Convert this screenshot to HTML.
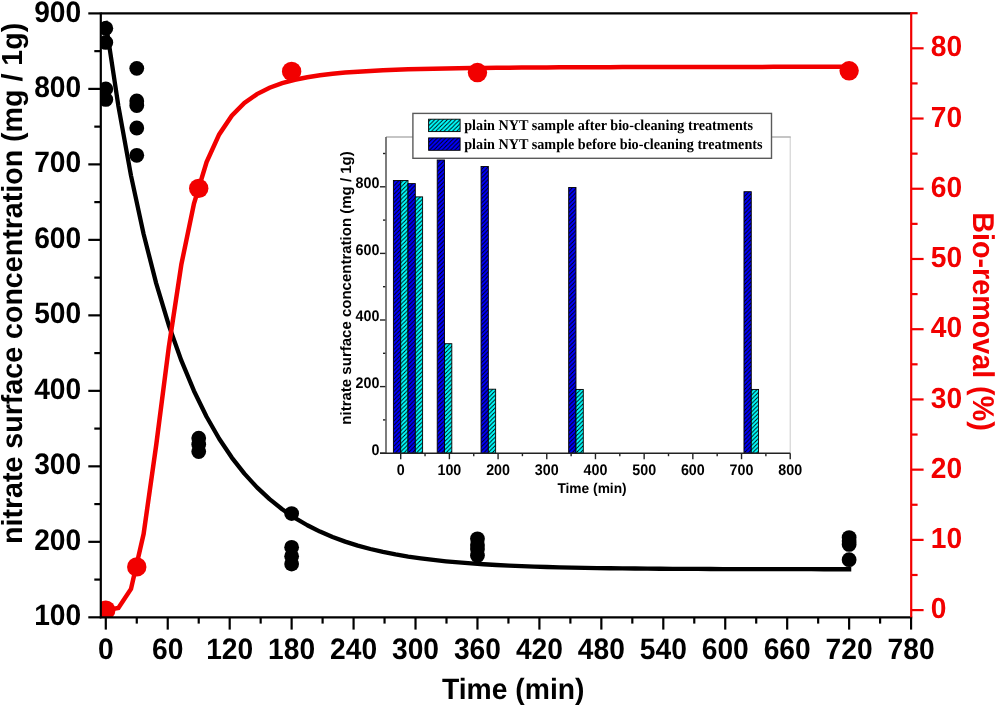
<!DOCTYPE html>
<html><head><meta charset="utf-8"><style>
html,body{margin:0;padding:0;background:#fff;}
svg{display:block;will-change:transform;}
.k{stroke:#000;stroke-width:2.2;}
.r{stroke:#f20000;stroke-width:2.2;}
.g{stroke:#a8a8a8;stroke-width:1.3;fill:none;}
.ik{stroke:#222;stroke-width:1.4;}
.iax{stroke:#666;stroke-width:1.7;}
.bar{stroke:#000;stroke-width:0.9;}
text{font-family:"Liberation Sans",sans-serif;font-weight:bold;text-rendering:geometricPrecision;}
.lab{font-size:28.2px;}
.ilab{font-size:14.3px;}
.ititle{font-size:15px;}
.ititle2{font-size:13.75px;}
.leg{font-family:"Liberation Serif",serif;font-size:14.2px;}
</style></head><body>
<svg width="995" height="705" viewBox="0 0 995 705">
<defs>
<pattern id="hb" patternUnits="userSpaceOnUse" width="4.2" height="4.2"><rect width="4.2" height="4.2" fill="#00f"/><path d="M-1,1 l2,-2 M0,4.2 l4.2,-4.2 M3.2,5.2 l2,-2" stroke="#000" stroke-width="0.9"/></pattern>
<pattern id="hc" patternUnits="userSpaceOnUse" width="4.2" height="4.2"><rect width="4.2" height="4.2" fill="#0ff"/><path d="M-1,1 l2,-2 M0,4.2 l4.2,-4.2 M3.2,5.2 l2,-2" stroke="#000" stroke-width="0.9"/></pattern>
<clipPath id="pa"><rect x="100.8" y="13.4" width="810.4000000000001" height="603.9"/></clipPath>
</defs>
<g clip-path="url(#pa)">
<polyline points="105.80,22.95 118.40,106.11 131.00,175.61 143.60,234.03 156.20,283.37 168.79,325.18 181.39,360.70 193.99,390.95 206.59,416.74 219.19,438.75 231.79,457.56 244.39,473.64 256.99,487.40 269.58,499.17 282.18,509.24 294.78,517.87 307.38,525.25 319.98,531.57 332.58,536.99 345.18,541.63 357.78,545.60 370.37,549.00 382.97,551.91 395.57,554.41 408.17,556.54 420.77,558.38 433.37,559.94 445.97,561.29 458.57,562.44 471.16,563.42 483.76,564.27 496.36,564.99 508.96,565.61 521.56,566.14 534.16,566.59 546.76,566.98 559.36,567.32 571.95,567.60 584.55,567.85 597.15,568.06 609.75,568.24 622.35,568.39 634.95,568.52 647.55,568.63 660.15,568.73 672.75,568.81 685.34,568.88 697.94,568.94 710.54,569.00 723.14,569.04 735.74,569.08 748.34,569.11 760.94,569.14 773.54,569.16 786.13,569.18 798.73,569.20 811.33,569.22 823.93,569.23 836.53,569.24 849.13,569.25" fill="none" stroke="#000" stroke-width="4.3" stroke-linejoin="round" stroke-linecap="square"/><polyline points="105.80,610.10 118.40,608.06 131.00,588.94 143.60,534.08 156.20,445.10 168.79,347.23 181.39,264.25 193.99,203.59 206.59,162.14 219.19,134.38 231.79,115.71 244.39,102.96 256.99,94.07 269.58,87.76 282.18,83.17 294.78,79.78 307.38,77.23 319.98,75.29 332.58,73.78 345.18,72.59 357.78,71.65 370.37,70.89 382.97,70.27 395.57,69.77 408.17,69.35 420.77,69.01 433.37,68.71 445.97,68.47 458.57,68.26 471.16,68.08 483.76,67.93 496.36,67.80 508.96,67.68 521.56,67.58 534.16,67.50 546.76,67.42 559.36,67.35 571.95,67.29 584.55,67.24 597.15,67.19 609.75,67.15 622.35,67.11 634.95,67.08 647.55,67.05 660.15,67.02 672.75,67.00 685.34,66.97 697.94,66.95 710.54,66.93 723.14,66.92 735.74,66.90 748.34,66.89 760.94,66.88 773.54,66.86 786.13,66.85 798.73,66.84 811.33,66.83 823.93,66.82 836.53,66.82 849.13,66.81" fill="none" stroke="#f20000" stroke-width="4.5" stroke-linejoin="miter" stroke-linecap="square"/>
<g fill="#000"><circle cx="105.80" cy="28.35" r="7.4"/><circle cx="105.80" cy="42.46" r="7.4"/><circle cx="105.80" cy="88.89" r="7.4"/><circle cx="105.80" cy="99.46" r="7.4"/><circle cx="136.77" cy="68.36" r="7.4"/><circle cx="136.77" cy="100.97" r="7.4"/><circle cx="136.77" cy="105.50" r="7.4"/><circle cx="136.77" cy="127.99" r="7.4"/><circle cx="136.77" cy="155.32" r="7.4"/><circle cx="198.72" cy="438.11" r="7.4"/><circle cx="198.72" cy="444.45" r="7.4"/><circle cx="198.72" cy="451.62" r="7.4"/><circle cx="291.63" cy="513.60" r="7.4"/><circle cx="291.63" cy="547.34" r="7.4"/><circle cx="291.63" cy="556.32" r="7.4"/><circle cx="291.63" cy="564.10" r="7.4"/><circle cx="477.46" cy="538.81" r="7.4"/><circle cx="477.46" cy="545.00" r="7.4"/><circle cx="477.46" cy="549.00" r="7.4"/><circle cx="477.46" cy="555.57" r="7.4"/><circle cx="849.13" cy="537.60" r="7.4"/><circle cx="849.13" cy="541.08" r="7.4"/><circle cx="849.13" cy="544.40" r="7.4"/><circle cx="849.13" cy="559.72" r="7.4"/></g>
<g fill="#f20000"><circle cx="105.80" cy="610.10" r="9.7"/><circle cx="136.77" cy="566.91" r="9.7"/><circle cx="198.72" cy="188.40" r="9.7"/><circle cx="291.63" cy="71.47" r="9.7"/><circle cx="477.46" cy="72.53" r="9.7"/><circle cx="849.13" cy="70.77" r="9.7"/></g>
</g>
<rect x="393.40" y="180.47" width="7.3" height="272.73" fill="url(#hb)" class="bar"/><rect x="400.70" y="180.47" width="7.3" height="272.73" fill="url(#hc)" class="bar"/><rect x="408.01" y="183.60" width="7.3" height="269.60" fill="url(#hb)" class="bar"/><rect x="415.31" y="196.89" width="7.3" height="256.31" fill="url(#hc)" class="bar"/><rect x="437.22" y="159.99" width="7.3" height="293.21" fill="url(#hb)" class="bar"/><rect x="444.52" y="343.71" width="7.3" height="109.49" fill="url(#hc)" class="bar"/><rect x="481.04" y="166.49" width="7.3" height="286.71" fill="url(#hb)" class="bar"/><rect x="488.34" y="389.20" width="7.3" height="64.00" fill="url(#hc)" class="bar"/><rect x="568.68" y="187.50" width="7.3" height="265.70" fill="url(#hb)" class="bar"/><rect x="575.98" y="389.43" width="7.3" height="63.77" fill="url(#hc)" class="bar"/><rect x="743.97" y="191.70" width="7.3" height="261.50" fill="url(#hb)" class="bar"/><rect x="751.27" y="389.43" width="7.3" height="63.77" fill="url(#hc)" class="bar"/><line x1="790.22" y1="137.00" x2="790.22" y2="453.20" stroke="#d0d0d0" stroke-width="1.1"/><line x1="386.00" y1="137.00" x2="790.72" y2="137.00" stroke="#b2b2b2" stroke-width="1.5"/><line x1="380.00" y1="453.20" x2="386.00" y2="453.20" class="ik"/><text transform="translate(379.40,454.50) scale(1,1.075)" text-anchor="end" class="ilab">0</text><line x1="380.00" y1="386.60" x2="386.00" y2="386.60" class="ik"/><text transform="translate(379.40,387.90) scale(1,1.075)" text-anchor="end" class="ilab">200</text><line x1="380.00" y1="320.00" x2="386.00" y2="320.00" class="ik"/><text transform="translate(379.40,321.30) scale(1,1.075)" text-anchor="end" class="ilab">400</text><line x1="380.00" y1="253.40" x2="386.00" y2="253.40" class="ik"/><text transform="translate(379.40,254.70) scale(1,1.075)" text-anchor="end" class="ilab">600</text><line x1="380.00" y1="186.80" x2="386.00" y2="186.80" class="ik"/><text transform="translate(379.40,188.10) scale(1,1.075)" text-anchor="end" class="ilab">800</text><line x1="383.00" y1="419.90" x2="386.00" y2="419.90" class="ik"/><line x1="383.00" y1="353.30" x2="386.00" y2="353.30" class="ik"/><line x1="383.00" y1="286.70" x2="386.00" y2="286.70" class="ik"/><line x1="383.00" y1="220.10" x2="386.00" y2="220.10" class="ik"/><line x1="383.00" y1="153.50" x2="386.00" y2="153.50" class="ik"/><line x1="400.70" y1="453.2" x2="400.70" y2="459.2" class="ik"/><text transform="translate(400.70,474.90) scale(1,1.075)" text-anchor="middle" class="ilab">0</text><line x1="449.39" y1="453.2" x2="449.39" y2="459.2" class="ik"/><text transform="translate(449.39,474.90) scale(1,1.075)" text-anchor="middle" class="ilab">100</text><line x1="498.08" y1="453.2" x2="498.08" y2="459.2" class="ik"/><text transform="translate(498.08,474.90) scale(1,1.075)" text-anchor="middle" class="ilab">200</text><line x1="546.77" y1="453.2" x2="546.77" y2="459.2" class="ik"/><text transform="translate(546.77,474.90) scale(1,1.075)" text-anchor="middle" class="ilab">300</text><line x1="595.46" y1="453.2" x2="595.46" y2="459.2" class="ik"/><text transform="translate(595.46,474.90) scale(1,1.075)" text-anchor="middle" class="ilab">400</text><line x1="644.15" y1="453.2" x2="644.15" y2="459.2" class="ik"/><text transform="translate(644.15,474.90) scale(1,1.075)" text-anchor="middle" class="ilab">500</text><line x1="692.84" y1="453.2" x2="692.84" y2="459.2" class="ik"/><text transform="translate(692.84,474.90) scale(1,1.075)" text-anchor="middle" class="ilab">600</text><line x1="741.53" y1="453.2" x2="741.53" y2="459.2" class="ik"/><text transform="translate(741.53,474.90) scale(1,1.075)" text-anchor="middle" class="ilab">700</text><line x1="790.22" y1="453.2" x2="790.22" y2="459.2" class="ik"/><text transform="translate(790.22,474.90) scale(1,1.075)" text-anchor="middle" class="ilab">800</text><line x1="425.04" y1="453.2" x2="425.04" y2="456.2" class="ik"/><line x1="473.74" y1="453.2" x2="473.74" y2="456.2" class="ik"/><line x1="522.42" y1="453.2" x2="522.42" y2="456.2" class="ik"/><line x1="571.12" y1="453.2" x2="571.12" y2="456.2" class="ik"/><line x1="619.80" y1="453.2" x2="619.80" y2="456.2" class="ik"/><line x1="668.50" y1="453.2" x2="668.50" y2="456.2" class="ik"/><line x1="717.18" y1="453.2" x2="717.18" y2="456.2" class="ik"/><line x1="765.88" y1="453.2" x2="765.88" y2="456.2" class="ik"/><line x1="386.00" y1="137.00" x2="386.00" y2="453.20" class="iax"/><line x1="380.00" y1="453.2" x2="790.22" y2="453.2" class="ik"/><text transform="translate(350.5,287.95) rotate(-90)" text-anchor="middle" class="ititle">nitrate surface concentration (mg / 1g)</text><text transform="translate(557.4,493.3) scale(1,1.02)" class="ititle2">Time (min)</text><rect x="412.9" y="113.4" width="358.6" height="44.9" fill="#fff" stroke="#5a5a5a" stroke-width="1.4"/><rect x="428.6" y="119.2" width="31.5" height="12.4" fill="url(#hc)" class="bar"/><rect x="428.6" y="137.9" width="31.5" height="12.4" fill="url(#hb)" class="bar"/><text transform="translate(464.2,130.3) scale(1,1.06)" class="leg">plain NYT sample after bio-cleaning treatments</text><text transform="translate(464.2,149.0) scale(1,1.06)" class="leg">plain NYT sample before bio-cleaning treatments</text>
<line x1="88.3" y1="617.32" x2="100.8" y2="617.32" class="k"/><text transform="translate(81.20,625.12) scale(1,1.05)" text-anchor="end" class="lab">100</text><line x1="88.3" y1="541.83" x2="100.8" y2="541.83" class="k"/><text transform="translate(81.20,549.63) scale(1,1.05)" text-anchor="end" class="lab">200</text><line x1="88.3" y1="466.34" x2="100.8" y2="466.34" class="k"/><text transform="translate(81.20,474.14) scale(1,1.05)" text-anchor="end" class="lab">300</text><line x1="88.3" y1="390.85" x2="100.8" y2="390.85" class="k"/><text transform="translate(81.20,398.65) scale(1,1.05)" text-anchor="end" class="lab">400</text><line x1="88.3" y1="315.36" x2="100.8" y2="315.36" class="k"/><text transform="translate(81.20,323.16) scale(1,1.05)" text-anchor="end" class="lab">500</text><line x1="88.3" y1="239.87" x2="100.8" y2="239.87" class="k"/><text transform="translate(81.20,247.67) scale(1,1.05)" text-anchor="end" class="lab">600</text><line x1="88.3" y1="164.38" x2="100.8" y2="164.38" class="k"/><text transform="translate(81.20,172.18) scale(1,1.05)" text-anchor="end" class="lab">700</text><line x1="88.3" y1="88.89" x2="100.8" y2="88.89" class="k"/><text transform="translate(81.20,96.69) scale(1,1.05)" text-anchor="end" class="lab">800</text><line x1="88.3" y1="13.40" x2="100.8" y2="13.40" class="k"/><text transform="translate(81.20,21.50) scale(1,1.05)" text-anchor="end" class="lab">900</text><line x1="94.3" y1="579.58" x2="100.8" y2="579.58" class="k"/><line x1="94.3" y1="504.08" x2="100.8" y2="504.08" class="k"/><line x1="94.3" y1="428.59" x2="100.8" y2="428.59" class="k"/><line x1="94.3" y1="353.10" x2="100.8" y2="353.10" class="k"/><line x1="94.3" y1="277.62" x2="100.8" y2="277.62" class="k"/><line x1="94.3" y1="202.12" x2="100.8" y2="202.12" class="k"/><line x1="94.3" y1="126.64" x2="100.8" y2="126.64" class="k"/><line x1="94.3" y1="51.14" x2="100.8" y2="51.14" class="k"/><line x1="105.80" y1="617.3" x2="105.80" y2="629.6" class="k"/><text transform="translate(105.80,659.20) scale(1,1.05)" text-anchor="middle" class="lab">0</text><line x1="167.74" y1="617.3" x2="167.74" y2="629.6" class="k"/><text transform="translate(167.74,659.20) scale(1,1.05)" text-anchor="middle" class="lab">60</text><line x1="229.69" y1="617.3" x2="229.69" y2="629.6" class="k"/><text transform="translate(229.69,659.20) scale(1,1.05)" text-anchor="middle" class="lab">120</text><line x1="291.63" y1="617.3" x2="291.63" y2="629.6" class="k"/><text transform="translate(291.63,659.20) scale(1,1.05)" text-anchor="middle" class="lab">180</text><line x1="353.58" y1="617.3" x2="353.58" y2="629.6" class="k"/><text transform="translate(353.58,659.20) scale(1,1.05)" text-anchor="middle" class="lab">240</text><line x1="415.52" y1="617.3" x2="415.52" y2="629.6" class="k"/><text transform="translate(415.52,659.20) scale(1,1.05)" text-anchor="middle" class="lab">300</text><line x1="477.46" y1="617.3" x2="477.46" y2="629.6" class="k"/><text transform="translate(477.46,659.20) scale(1,1.05)" text-anchor="middle" class="lab">360</text><line x1="539.41" y1="617.3" x2="539.41" y2="629.6" class="k"/><text transform="translate(539.41,659.20) scale(1,1.05)" text-anchor="middle" class="lab">420</text><line x1="601.35" y1="617.3" x2="601.35" y2="629.6" class="k"/><text transform="translate(601.35,659.20) scale(1,1.05)" text-anchor="middle" class="lab">480</text><line x1="663.30" y1="617.3" x2="663.30" y2="629.6" class="k"/><text transform="translate(663.30,659.20) scale(1,1.05)" text-anchor="middle" class="lab">540</text><line x1="725.24" y1="617.3" x2="725.24" y2="629.6" class="k"/><text transform="translate(725.24,659.20) scale(1,1.05)" text-anchor="middle" class="lab">600</text><line x1="787.18" y1="617.3" x2="787.18" y2="629.6" class="k"/><text transform="translate(787.18,659.20) scale(1,1.05)" text-anchor="middle" class="lab">660</text><line x1="849.13" y1="617.3" x2="849.13" y2="629.6" class="k"/><text transform="translate(849.13,659.20) scale(1,1.05)" text-anchor="middle" class="lab">720</text><line x1="911.07" y1="617.3" x2="911.07" y2="629.6" class="k"/><text transform="translate(911.07,659.20) scale(1,1.05)" text-anchor="middle" class="lab">780</text><line x1="136.77" y1="617.3" x2="136.77" y2="623.6" class="k"/><line x1="198.72" y1="617.3" x2="198.72" y2="623.6" class="k"/><line x1="260.66" y1="617.3" x2="260.66" y2="623.6" class="k"/><line x1="322.60" y1="617.3" x2="322.60" y2="623.6" class="k"/><line x1="384.55" y1="617.3" x2="384.55" y2="623.6" class="k"/><line x1="446.49" y1="617.3" x2="446.49" y2="623.6" class="k"/><line x1="508.44" y1="617.3" x2="508.44" y2="623.6" class="k"/><line x1="570.38" y1="617.3" x2="570.38" y2="623.6" class="k"/><line x1="632.32" y1="617.3" x2="632.32" y2="623.6" class="k"/><line x1="694.27" y1="617.3" x2="694.27" y2="623.6" class="k"/><line x1="756.21" y1="617.3" x2="756.21" y2="623.6" class="k"/><line x1="818.16" y1="617.3" x2="818.16" y2="623.6" class="k"/><line x1="880.10" y1="617.3" x2="880.10" y2="623.6" class="k"/><line x1="911.2" y1="610.10" x2="923.6" y2="610.10" class="r"/><text transform="translate(930.80,618.20) scale(1,1.03)" text-anchor="start" class="lab" fill="#f20000">0</text><line x1="911.2" y1="539.88" x2="923.6" y2="539.88" class="r"/><text transform="translate(930.80,547.98) scale(1,1.03)" text-anchor="start" class="lab" fill="#f20000">10</text><line x1="911.2" y1="469.65" x2="923.6" y2="469.65" class="r"/><text transform="translate(930.80,477.75) scale(1,1.03)" text-anchor="start" class="lab" fill="#f20000">20</text><line x1="911.2" y1="399.43" x2="923.6" y2="399.43" class="r"/><text transform="translate(930.80,407.53) scale(1,1.03)" text-anchor="start" class="lab" fill="#f20000">30</text><line x1="911.2" y1="329.20" x2="923.6" y2="329.20" class="r"/><text transform="translate(930.80,337.30) scale(1,1.03)" text-anchor="start" class="lab" fill="#f20000">40</text><line x1="911.2" y1="258.98" x2="923.6" y2="258.98" class="r"/><text transform="translate(930.80,267.08) scale(1,1.03)" text-anchor="start" class="lab" fill="#f20000">50</text><line x1="911.2" y1="188.75" x2="923.6" y2="188.75" class="r"/><text transform="translate(930.80,196.85) scale(1,1.03)" text-anchor="start" class="lab" fill="#f20000">60</text><line x1="911.2" y1="118.53" x2="923.6" y2="118.53" class="r"/><text transform="translate(930.80,126.63) scale(1,1.03)" text-anchor="start" class="lab" fill="#f20000">70</text><line x1="911.2" y1="48.30" x2="923.6" y2="48.30" class="r"/><text transform="translate(930.80,56.40) scale(1,1.03)" text-anchor="start" class="lab" fill="#f20000">80</text><line x1="911.2" y1="574.99" x2="917.6" y2="574.99" class="r"/><line x1="911.2" y1="504.76" x2="917.6" y2="504.76" class="r"/><line x1="911.2" y1="434.54" x2="917.6" y2="434.54" class="r"/><line x1="911.2" y1="364.31" x2="917.6" y2="364.31" class="r"/><line x1="911.2" y1="294.09" x2="917.6" y2="294.09" class="r"/><line x1="911.2" y1="223.86" x2="917.6" y2="223.86" class="r"/><line x1="911.2" y1="153.64" x2="917.6" y2="153.64" class="r"/><line x1="911.2" y1="83.41" x2="917.6" y2="83.41" class="r"/><line x1="911.2" y1="13.19" x2="917.6" y2="13.19" class="r"/><line x1="100.8" y1="13.4" x2="911.2" y2="13.4" class="k"/><line x1="99.8" y1="617.3" x2="912.2" y2="617.3" class="k"/><line x1="100.8" y1="12.4" x2="100.8" y2="618.3" class="k"/><line x1="911.2" y1="12.4" x2="911.2" y2="617.3" class="r"/>
<text transform="translate(22.2,283.4) rotate(-90) scale(1,1.015)" text-anchor="middle" style="font-size:28.6px">nitrate surface concentration (mg / 1g)</text>
<text transform="translate(973.2,321.5) rotate(90) scale(1,1.05)" text-anchor="middle" style="font-size:28.7px" fill="#f20000">Bio-removal (%)</text>
<text transform="translate(441.9,698.8) scale(1,1.04)" style="font-size:28.3px">Time (min)</text>
</svg>
</body></html>
